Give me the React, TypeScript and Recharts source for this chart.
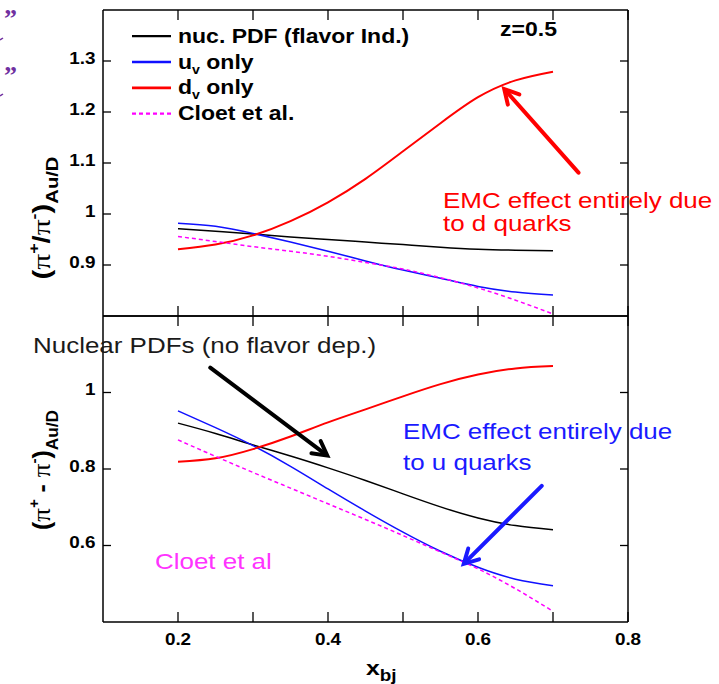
import React from 'react';
import { LineChart, Line, XAxis, YAxis, ReferenceLine } from 'recharts';

// x_bj grid of the curves
const xValues = [0.2, 0.25, 0.3, 0.35, 0.4, 0.45, 0.5, 0.55, 0.6, 0.65, 0.7];

// upper panel: (pi+/pi-) Au/D
const ratioNuc = [0.971, 0.966, 0.961, 0.955, 0.95, 0.945, 0.94, 0.935, 0.931, 0.929, 0.928];
const ratioUv = [0.982, 0.976, 0.962, 0.945, 0.927, 0.908, 0.89, 0.874, 0.858, 0.847, 0.841];
const ratioDv = [0.931, 0.94, 0.958, 0.986, 1.023, 1.069, 1.123, 1.178, 1.229, 1.262, 1.279];
const ratioCloet = [0.956, 0.946, 0.936, 0.927, 0.917, 0.905, 0.892, 0.875, 0.855, 0.831, 0.804];

// lower panel: (pi+ - pi-) Au/D
const diffNuc = [0.92, 0.893, 0.863, 0.834, 0.803, 0.77, 0.735, 0.701, 0.672, 0.652, 0.641];
const diffUv = [0.952, 0.908, 0.861, 0.807, 0.748, 0.69, 0.635, 0.585, 0.543, 0.512, 0.495];
const diffDv = [0.819, 0.828, 0.852, 0.885, 0.922, 0.956, 0.99, 1.022, 1.047, 1.063, 1.069];
const diffCloet = [0.876, 0.833, 0.791, 0.75, 0.709, 0.668, 0.626, 0.583, 0.539, 0.487, 0.428];

const xTicks = [0.2, 0.3, 0.4, 0.5, 0.6, 0.7, 0.8];
const xTickLabels = [0.2, 0.4, 0.6, 0.8];
const ratioTicks = [0.9, 1, 1.1, 1.2, 1.3];
const diffTicks = [0.6, 0.8, 1];

const legendNames = ['nuc. PDF (flavor Ind.)', 'u|v| only', 'd|v| only', 'Cloet et al.'];

const ratioData = xValues.map((x, i) => ({ x, nuc: ratioNuc[i], uv: ratioUv[i], dv: ratioDv[i], cloet: ratioCloet[i] }));
const diffData = xValues.map((x, i) => ({ x, nuc: diffNuc[i], uv: diffUv[i], dv: diffDv[i], cloet: diffCloet[i] }));

const series = [
  { key: 'nuc', color: '#000000', width: 1.5, dash: undefined as string | undefined },
  { key: 'uv', color: '#1010ff', width: 1.5, dash: undefined },
  { key: 'dv', color: '#ff0000', width: 2, dash: undefined },
  { key: 'cloet', color: '#ff00ff', width: 1.5, dash: '4 3' },
];

const FONT = '"Liberation Sans", Arial, Helvetica, sans-serif';
const SX = 1.18; // the original lettering is stretched sideways

type STextProps = {
  x: number;
  y: number;
  anchor?: 'start' | 'middle' | 'end';
  size: number;
  bold?: boolean;
  color?: string;
  children: React.ReactNode;
};

const SText = ({ x, y, anchor = 'start', size, bold, color = '#000', children }: STextProps) => (
  <g transform={`translate(${x} ${y}) scale(${SX} 1)`}>
    <text x={0} y={0} textAnchor={anchor} fontFamily={FONT} fontSize={size} fontWeight={bold ? 700 : 400} fill={color}>
      {children}
    </text>
  </g>
);

const fmt = (v: number) => String(+v.toFixed(2));
const axisStyle = { stroke: '#000', strokeWidth: 1.5 };

const LeftTick = (p: any) => (
  <g>
    <line x1={p.x} x2={p.x + 8} y1={p.y} y2={p.y} stroke="#000" strokeWidth={1.3} />
    <SText x={p.x - 7.5} y={p.y + 2.5} anchor="end" size={16} bold>
      {fmt(p.payload.value)}
    </SText>
  </g>
);

const RightTick = (p: any) => <line x1={p.x - 8} x2={p.x} y1={p.y} y2={p.y} stroke="#000" strokeWidth={1.3} />;

const TopTick = (p: any) => <line x1={p.x} x2={p.x} y1={p.y} y2={p.y + 10} stroke="#000" strokeWidth={1.3} />;

const makeBottomTick = (withLabels: boolean) => (p: any) => (
  <g>
    <line x1={p.x} x2={p.x} y1={p.y - 10} y2={p.y} stroke="#000" strokeWidth={1.3} />
    {withLabels && xTickLabels.includes(p.payload.value) && (
      <SText x={p.x} y={p.y + 23} anchor="middle" size={16} bold>
        {fmt(p.payload.value)}
      </SText>
    )}
  </g>
);

const arrowShape = (color: string) => (p: any) => {
  const { x1, y1, x2, y2 } = p;
  const ang = Math.atan2(y2 - y1, x2 - x1);
  const L = 16;
  const s = 0.5;
  const h1 = `${x2 - L * Math.cos(ang - s)},${y2 - L * Math.sin(ang - s)}`;
  const h2 = `${x2 - L * Math.cos(ang + s)},${y2 - L * Math.sin(ang + s)}`;
  return (
    <g>
      <line x1={x1} y1={y1} x2={x2 - 2 * Math.cos(ang)} y2={y2 - 2 * Math.sin(ang)} stroke={color} strokeWidth={4} strokeLinecap="round" />
      <polyline points={`${h1} ${x2},${y2} ${h2}`} fill="none" stroke={color} strokeWidth={4} strokeLinecap="round" />
    </g>
  );
};

const YTitle = ({ cx, cy, minus }: { cx: number; cy: number; minus: boolean }) => (
  <text
    transform={`rotate(-90 ${cx} ${cy})`}
    x={cx}
    y={cy}
    textAnchor="middle"
    fontFamily={FONT}
    fontWeight={700}
    fontSize={23}
    fill="#000"
    textLength={minus ? 120 : 123}
    lengthAdjust="spacingAndGlyphs"
  >
    <tspan>(</tspan>
    <tspan fontFamily='"Liberation Serif", serif' fontWeight={400} fontSize={25}>π</tspan>
    <tspan fontSize={14} dy={-11}>+</tspan>
    <tspan dy={11}>{minus ? ' - ' : '/'}</tspan>
    <tspan fontFamily='"Liberation Serif", serif' fontWeight={400} fontSize={25}>π</tspan>
    <tspan fontSize={14} dy={-11}>-</tspan>
    <tspan dy={11}>)</tspan>
    <tspan fontSize={16} dy={8}>Au/D</tspan>
  </text>
);

type Arrow = { from: { x: number; y: number }; to: { x: number; y: number }; color: string };

const ratioArrows: Arrow[] = [{ from: { x: 0.734, y: 1.081 }, to: { x: 0.635, y: 1.245 }, color: '#ff0000' }];
const diffArrows: Arrow[] = [
  { from: { x: 0.243, y: 1.065 }, to: { x: 0.399, y: 0.835 }, color: '#000000' },
  { from: { x: 0.685, y: 0.756 }, to: { x: 0.581, y: 0.552 }, color: '#1a1aff' },
];

type PanelProps = {
  data: any[];
  domain: [number, number];
  yTicks: number[];
  top: number;
  bottomH: number;
  xLabels: boolean;
  titleY: number;
  minus: boolean;
  arrows: Arrow[];
};

const Panel = ({ data, domain, yTicks, top, bottomH, xLabels, titleY, minus, arrows }: PanelProps) => (
  <LineChart
    width={719}
    height={10 + 306 + bottomH}
    data={data}
    margin={{ top: 0, right: 0, bottom: 0, left: 0 }}
    style={{ position: 'absolute', left: 0, top }}
  >
    <XAxis
      xAxisId="t"
      orientation="top"
      dataKey="x"
      type="number"
      domain={[0.1, 0.8]}
      allowDataOverflow
      ticks={xTicks}
      interval={0}
      height={10}
      tickSize={0}
      tickMargin={0}
      tickLine={false}
      axisLine={axisStyle}
      tick={TopTick}
    />
    <XAxis
      xAxisId="b"
      orientation="bottom"
      dataKey="x"
      type="number"
      domain={[0.1, 0.8]}
      allowDataOverflow
      ticks={xTicks}
      interval={0}
      height={bottomH}
      tickSize={0}
      tickMargin={0}
      tickLine={false}
      axisLine={axisStyle}
      tick={makeBottomTick(xLabels)}
    />
    <YAxis
      yAxisId="l"
      type="number"
      domain={domain}
      allowDataOverflow
      ticks={yTicks}
      interval={0}
      width={103}
      tickSize={0}
      tickMargin={0}
      tickLine={false}
      axisLine={axisStyle}
      tick={LeftTick}
      label={{ content: () => <YTitle cx={50} cy={titleY} minus={minus} /> }}
    />
    <YAxis
      yAxisId="r"
      orientation="right"
      type="number"
      domain={domain}
      allowDataOverflow
      ticks={yTicks}
      interval={0}
      width={91}
      tickSize={0}
      tickMargin={0}
      tickLine={false}
      axisLine={axisStyle}
      tick={RightTick}
    />
    {series.map((s) => (
      <Line
        key={s.key}
        xAxisId="b"
        yAxisId="l"
        type="natural"
        dataKey={s.key}
        stroke={s.color}
        strokeWidth={s.width}
        strokeDasharray={s.dash}
        dot={false}
        activeDot={false}
        isAnimationActive={false}
      />
    ))}
    {arrows.map((a, i) => (
      <ReferenceLine
        key={i}
        xAxisId="b"
        yAxisId="l"
        segment={[a.from, a.to]}
        ifOverflow="visible"
        shape={arrowShape(a.color)}
      />
    ))}
  </LineChart>
);

const LegendRow = ({ name, color, dash, width, y }: { name: string; color: string; dash?: string; width: number; y: number }) => {
  const [main, sub, rest] = name.split('|');
  return (
    <g>
      <line x1={132} x2={171} y1={y - 6.5} y2={y - 6.5} stroke={color} strokeWidth={width} strokeDasharray={dash} />
      <SText x={178} y={y} size={19.5} bold>
        <tspan>{main}</tspan>
        {sub !== undefined && (
          <>
            <tspan fontSize={12} dy={5}>{sub}</tspan>
            <tspan dy={-5}>{rest}</tspan>
          </>
        )}
      </SText>
    </g>
  );
};

export default function App() {
  return (
    <div style={{ position: 'absolute', left: 0, top: 0, width: 719, height: 684, background: '#fff', overflow: 'hidden' }}>
      <Panel data={ratioData} domain={[0.8, 1.4]} yTicks={ratioTicks} top={0} bottomH={14} xLabels={false} titleY={218} minus={false} arrows={ratioArrows} />
      <Panel data={diffData} domain={[0.4, 1.2]} yTicks={diffTicks} top={306} bottomH={62} xLabels titleY={164} minus arrows={diffArrows} />
      <svg width={719} height={684} style={{ position: 'absolute', left: 0, top: 0, pointerEvents: 'none' }}>
        {/* fragments of slide text at the left edge */}
        <text x={4} y={27} fontFamily='"Liberation Serif", serif' fontWeight={700} fontSize={26} fill="#7030a0">”</text>
        <text x={4} y={84} fontFamily='"Liberation Serif", serif' fontWeight={700} fontSize={26} fill="#7030a0">”</text>
        <line x1={0} x2={3} y1={40} y2={38} stroke="#7030a0" strokeWidth={1.5} />
        <line x1={0} x2={3} y1={96} y2={94} stroke="#7030a0" strokeWidth={1.5} />

        {legendNames.map((n, i) => (
          <LegendRow key={n} name={n} color={series[i].color} dash={series[i].dash} width={series[i].width + 0.8} y={42.7 + i * 25.8} />
        ))}
        <SText x={557} y={36} anchor="end" size={19.5} bold>z=0.5</SText>

        <SText x={443} y={208} size={22} color="#ff0000">EMC effect entirely due</SText>
        <SText x={443} y={230.5} size={22} color="#ff0000">to d quarks</SText>
        <SText x={33} y={352.5} size={22} color="#1a1a1a">Nuclear PDFs (no flavor dep.)</SText>
        <SText x={403} y={439} size={22} color="#1a1aff">EMC effect entirely due</SText>
        <SText x={403} y={470} size={22} color="#1a1aff">to u quarks</SText>
        <SText x={155} y={569} size={22} color="#ff33ff">Cloet et al</SText>

        <SText x={366} y={675} size={21} bold>
          <tspan>x</tspan>
          <tspan fontSize={16} dy={6}>bj</tspan>
        </SText>
      </svg>
    </div>
  );
}
